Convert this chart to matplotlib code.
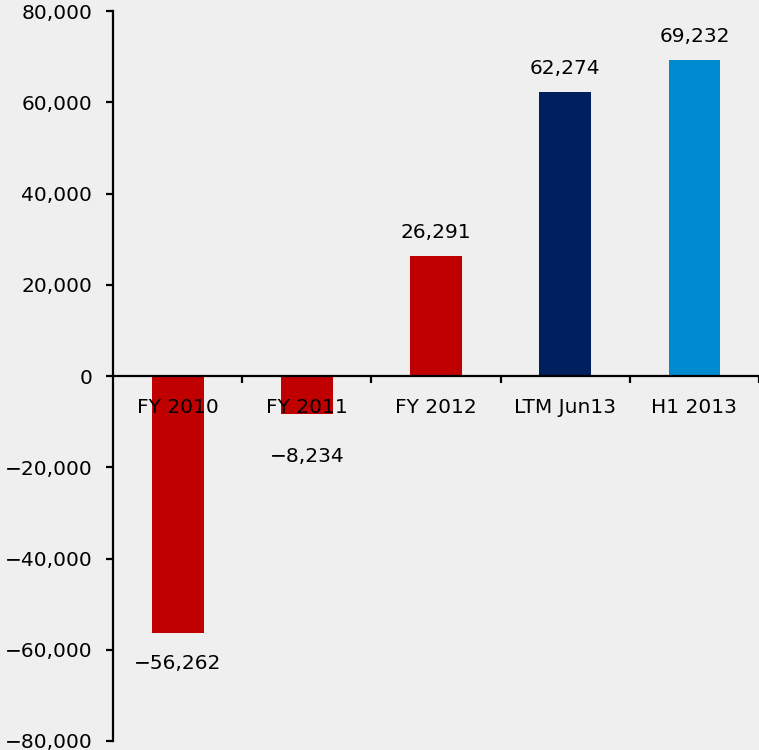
import matplotlib.pyplot as plt
from matplotlib.ticker import FuncFormatter

# datos del grafico
categorias = ['FY 2010', 'FY 2011', 'FY 2012', 'LTM Jun13', 'H1 2013']
valores = [-56262, -8234, 26291, 62274, 69232]
colores = ['#C00000', '#C00000', '#C00000', '#001F5F', '#008AD0']
yticks = [-80000, -60000, -40000, -20000, 0, 20000, 40000, 60000, 80000]

fondo = '#EFEFEF'
plt.rcParams['font.family'] = ['DejaVu Sans']
tam = 14.5


def fmt(v):
    s = f'{abs(v):,.0f}'
    return ('\u2212' + s) if v < 0 else s


fig = plt.figure(figsize=(7.59, 7.5), dpi=100, facecolor=fondo)
ax = fig.add_axes([0.149, 0.012, 0.851, 0.9733])
ax.set_facecolor(fondo)

x = range(len(categorias))
ax.bar(x, valores, width=0.4, color=colores, zorder=2)

ax.set_xlim(-0.5, 4.5)
ax.set_ylim(-80000, 80000)

# ejes
for s in ['top', 'right']:
    ax.spines[s].set_visible(False)
ax.spines['bottom'].set_position(('data', 0))
ax.spines['left'].set_linewidth(1.6)
ax.spines['bottom'].set_linewidth(1.6)
ax.spines['bottom'].set_zorder(3)

ax.set_yticks(yticks)
ax.yaxis.set_major_formatter(FuncFormatter(lambda v, p: fmt(v)))
ax.tick_params(axis='y', direction='out', length=5, width=1.6, pad=10,
               labelsize=tam)

ax.set_xticks([i + 0.5 for i in x][:-1] + [4.5])
ax.tick_params(axis='x', direction='out', length=5, width=1.6, labelbottom=False)

# etiquetas de categoria sobre las barras
for i, c in zip(x, categorias):
    ax.annotate(c, (i, 0), xytext=(0, -23), textcoords='offset points',
                ha='center', va='center', fontsize=tam, zorder=5)

# etiquetas de valor
for i, v in zip(x, valores):
    if v >= 0:
        ax.annotate(fmt(v), (i, v), xytext=(0, 17), textcoords='offset points',
                    ha='center', va='center', fontsize=tam)
    else:
        ax.annotate(fmt(v), (i, min(v, -11000)), xytext=(0, -22),
                    textcoords='offset points', ha='center', va='center',
                    fontsize=tam)

fig.savefig('out.png', dpi=100, facecolor=fondo)
